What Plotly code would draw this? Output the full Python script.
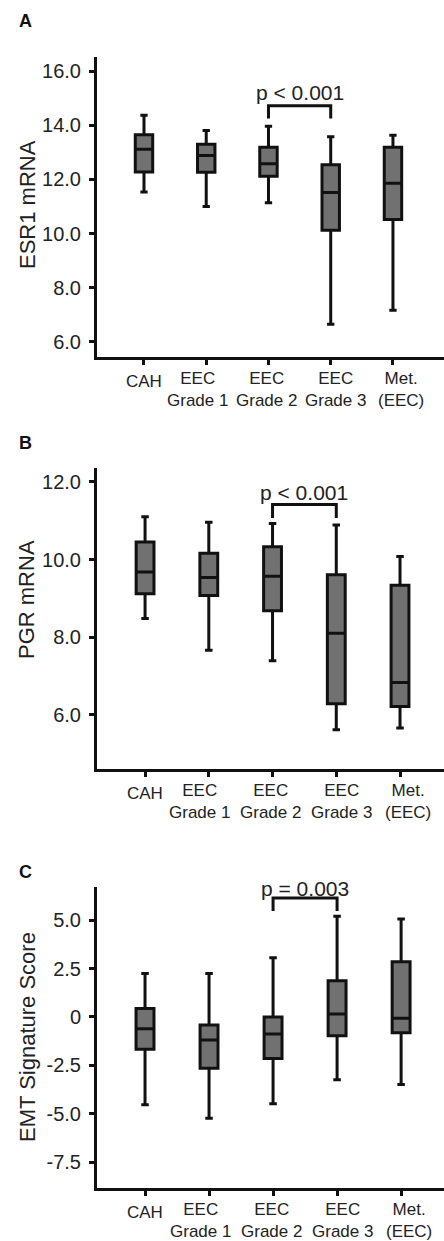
import plotly.graph_objects as go

W, H = 444, 1241

categories = ["CAH", "EEC<br>Grade 1", "EEC<br>Grade 2", "EEC<br>Grade 3", "Met.<br>(EEC)"]

# Panel A: ESR1 mRNA
esr1_low = [11.53, 11.00, 11.14, 6.65, 7.17]
esr1_q1 = [12.27, 12.26, 12.12, 10.12, 10.52]
esr1_med = [13.11, 12.88, 12.58, 11.52, 11.86]
esr1_q3 = [13.65, 13.30, 13.19, 12.54, 13.19]
esr1_high = [14.37, 13.81, 13.96, 13.57, 13.63]

# Panel B: PGR mRNA
pgr_low = [8.48, 7.66, 7.39, 5.61, 5.66]
pgr_q1 = [9.12, 9.07, 8.68, 6.28, 6.21]
pgr_med = [9.68, 9.54, 9.57, 8.10, 6.83]
pgr_q3 = [10.45, 10.16, 10.33, 9.61, 9.34]
pgr_high = [11.10, 10.96, 10.93, 10.89, 10.08]

# Panel C: EMT signature score
emt_low = [-4.54, -5.23, -4.49, -3.25, -3.49]
emt_q1 = [-1.67, -2.65, -2.14, -0.97, -0.81]
emt_med = [-0.61, -1.19, -0.88, 0.15, -0.07]
emt_q3 = [0.44, -0.42, 0.00, 1.87, 2.85]
emt_high = [2.25, 2.25, 3.06, 5.21, 5.07]

panel_letters = ["A", "B", "C"]
y_titles = ["ESR1 mRNA", "PGR mRNA", "EMT Signature Score"]
p_texts = ["p < 0.001", "p < 0.001", "p = 0.003"]
y_ticks = [[6, 8, 10, 12, 14, 16], [6, 8, 10, 12], [-7.5, -5, -2.5, 0, 2.5, 5]]
y_ticktext = [["6.0", "8.0", "10.0", "12.0", "14.0", "16.0"],
              ["6.0", "8.0", "10.0", "12.0"],
              ["-7.5", "-5.0", "-2.5", "0", "2.5", "5.0"]]
y_ranges = [[5.44, 16.52], [4.60, 12.36], [-8.84, 6.72]]
x_ranges = [[-0.755, 4.82], [-0.754, 4.69], [-0.75, 4.67]]
bracket_top = [14.72, 11.42, 6.15]
bracket_leg = [14.25, 11.07, 5.48]
p_text_y = [15.22, 11.73, 6.63]

panels = [
    (esr1_low, esr1_q1, esr1_med, esr1_q3, esr1_high),
    (pgr_low, pgr_q1, pgr_med, pgr_q3, pgr_high),
    (emt_low, emt_q1, emt_med, emt_q3, emt_high),
]

# pixel layout (top, bottom) for each panel plot area
domains_px = [(57, 357), (468, 769), (887, 1188)]
letter_px = [21, 443, 872]
title_px = [205, 600, 1037]
label_xshift = [0, -9, -2, 5, 8]

FONT = "Arial, Liberation Sans, sans-serif"

fig = go.Figure()
x_pos = list(range(len(categories)))

for i, (lo, q1, med, q3, hi) in enumerate(panels):
    sfx = "" if i == 0 else str(i + 1)
    fig.add_trace(go.Box(
        x=x_pos, q1=q1, median=med, q3=q3, lowerfence=lo, upperfence=hi,
        xaxis="x" + sfx, yaxis="y" + sfx,
        fillcolor="#717171", line=dict(color="#111111", width=3),
        width=0.28, whiskerwidth=0.42, boxpoints=False, showlegend=False,
        hoverinfo="skip",
    ))
    top, bot = domains_px[i]
    fig.update_layout(**{
        "xaxis" + sfx: dict(
            domain=[97 / W, 1], range=x_ranges[i], anchor="y" + sfx,
            tickvals=x_pos, showticklabels=False, automargin=False,
            showline=True, linewidth=3, linecolor="#111111",
            ticks="outside", ticklen=5, tickwidth=3, tickcolor="#111111",
            showgrid=False, zeroline=False,
        ),
        "yaxis" + sfx: dict(
            domain=[1 - bot / H, 1 - top / H], range=y_ranges[i], anchor="x" + sfx,
            tickvals=y_ticks[i], ticktext=y_ticktext[i], automargin=False,
            showline=True, linewidth=3, linecolor="#111111",
            ticks="outside", ticklen=5, tickwidth=3, tickcolor="#111111",
            showgrid=False, zeroline=False, ticklabelstandoff=4,
            tickfont=dict(family=FONT, size=20, color="#222222"),
        ),
    })
    # category labels under the x axis
    for k, cat in enumerate(categories):
        one_line = "<br>" not in cat
        fig.add_annotation(x=x_pos[k], xref="x" + sfx, xshift=label_xshift[k],
                           y=1 - (bot + (13 if one_line else 10)) / H, yref="paper",
                           text=cat, showarrow=False, xanchor="center", yanchor="top",
                           align="center",
                           font=dict(family=FONT, size=17, color="#222222"))
    # significance bracket
    fig.add_shape(type="path", xref="x" + sfx, yref="y" + sfx,
                  path=f"M 2,{bracket_leg[i]} L 2,{bracket_top[i]} L 3,{bracket_top[i]} L 3,{bracket_leg[i]}",
                  line=dict(color="#111111", width=3))
    fig.add_annotation(x=2.5, y=p_text_y[i], xref="x" + sfx, yref="y" + sfx,
                       text=p_texts[i], showarrow=False,
                       xanchor="center", yanchor="middle",
                       font=dict(family=FONT, size=21, color="#222222"))
    # panel letter
    fig.add_annotation(x=25 / W, y=1 - letter_px[i] / H, xref="paper", yref="paper",
                       text="<b>" + panel_letters[i] + "</b>", showarrow=False,
                       xanchor="center", yanchor="middle",
                       font=dict(family=FONT, size=18, color="#111111"))
    # y-axis title
    fig.add_annotation(x=27 / W, y=1 - title_px[i] / H, xref="paper", yref="paper",
                       text=y_titles[i], textangle=-90, showarrow=False,
                       xanchor="center", yanchor="middle",
                       font=dict(family=FONT, size=22, color="#222222"))

fig.update_layout(
    template="none",
    width=W, height=H, autosize=False,
    margin=dict(l=0, r=0, t=0, b=0, pad=0),
    paper_bgcolor="white", plot_bgcolor="white",
    showlegend=False,
)

fig.write_html("out.html",
               config={"displayModeBar": False},
               post_script="document.body.style.margin='0';document.body.style.overflow='hidden';")
